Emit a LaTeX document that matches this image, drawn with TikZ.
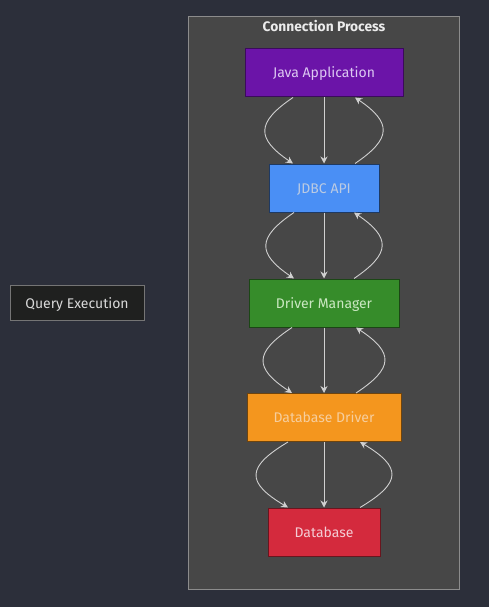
\documentclass[tikz,border=0pt]{standalone}
\usepackage{fontspec}
\setmainfont{Fira Sans}
\usetikzlibrary{arrows.meta}
\definecolor{bgdark}{HTML}{2C2F3A}
\definecolor{clusterfill}{HTML}{474747}
\definecolor{clusterdraw}{HTML}{8C8C8C}
\definecolor{flowgray}{HTML}{D0D0D0}
\definecolor{javafill}{HTML}{6B14A8}
\definecolor{javatext}{HTML}{DCC8F2}
\definecolor{jdbcfill}{HTML}{4A8FF5}
\definecolor{jdbctext}{HTML}{BCCBE2}
\definecolor{managerfill}{HTML}{368C2A}
\definecolor{managertext}{HTML}{CBE8C2}
\definecolor{driverfill}{HTML}{F4961E}
\definecolor{drivertext}{HTML}{F6CE9E}
\definecolor{dbfill}{HTML}{D42A3D}
\definecolor{dbtext}{HTML}{F4CCD4}
\definecolor{queryfill}{HTML}{1F201F}
\tikzstyle{box}=[rectangle, minimum height=48pt, inner sep=0pt, text height=10pt, text depth=0pt, line width=1pt, anchor=center, font=\fontsize{14}{16}\selectfont]
\tikzstyle{cluster}=[rectangle, fill=clusterfill, draw=clusterdraw, line width=0.8pt, inner sep=0pt]
\tikzstyle{annot}=[align=center, text=white!92!black, font=\bfseries\fontsize{13.8}{16}\selectfont]
\tikzstyle{flow}=[draw=flowgray, line width=0.9pt, -{Stealth[length=7pt,width=7pt]}]
% three connectors between two stacked boxes
\newcommand{\linknodes}[4]
{
  \draw[flow] ([xshift=-#3pt]#1.south) .. controls +(-#4,-25) and +(-#4,25) .. ([xshift=-#3pt]#2.north);
  \draw[flow] (#1.south) -- (#2.north);
  \draw[flow] ([xshift=#3pt]#2.north) .. controls +(#4,25) and +(#4,-25) .. ([xshift=#3pt]#1.south);
}

\begin{document}
\begin{tikzpicture}[x=1pt, y=1pt]
	\fill[bgdark] (0,0) rectangle (489,-607);
	\useasboundingbox (0,0) rectangle (489,-607);

	\node[cluster, minimum width=271pt, minimum height=573pt](process) at (323.5,-302.5){};
	\node[annot](title) at (324,-26){Connection Process};

	\node[box, minimum width=158pt, fill=javafill, draw=javafill!55!black, text=javatext](java) at (324,-73){Java Application};
	\node[box, minimum width=110pt, fill=jdbcfill, draw=jdbcfill!40!black, text=jdbctext](jdbc) at (324,-188){JDBC API};
	\node[box, minimum width=150pt, fill=managerfill, draw=managerfill!50!black, text=managertext](manager) at (324,-303){Driver Manager};
	\node[box, minimum width=154pt, fill=driverfill, draw=driverfill!45!black, text=drivertext](driver) at (324,-417.5){Database Driver};
	\node[box, minimum width=112pt, fill=dbfill, draw=dbfill!50!black, text=dbtext](db) at (324,-532){Database};

	\node[box, minimum width=134pt, minimum height=35pt, fill=queryfill, draw=clusterdraw!120, text=white!85!black](query) at (77,-303){Query Execution};

	\linknodes{java}{jdbc}{31}{37}
	\linknodes{jdbc}{manager}{30}{37}
	\linknodes{manager}{driver}{32}{38}
	\linknodes{driver}{db}{36}{42}

\end{tikzpicture}
\end{document}
